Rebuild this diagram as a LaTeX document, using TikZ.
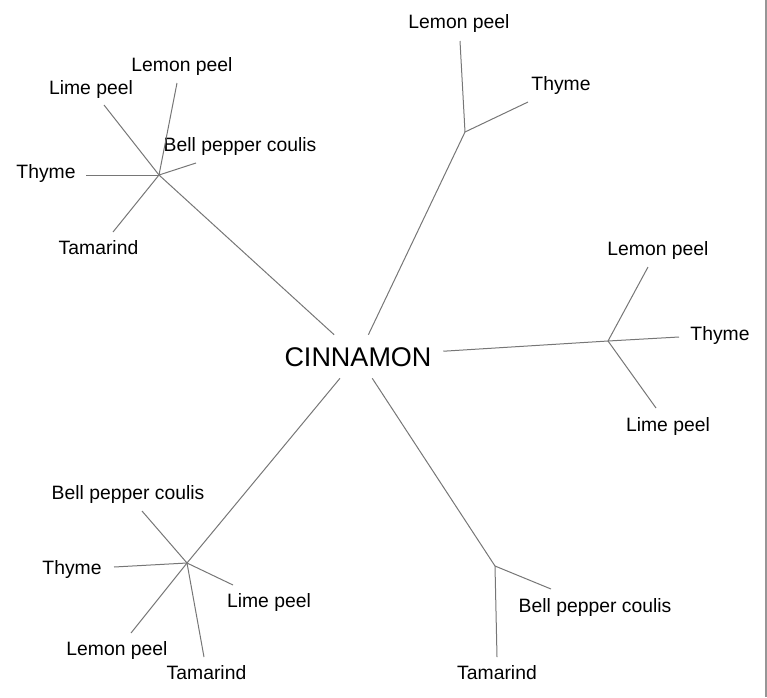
\documentclass[tikz,border=0pt]{standalone}
\usepackage{fontspec}
\setmainfont{Liberation Sans}
\definecolor{edgegray}{RGB}{118,118,118}
\definecolor{framegray}{RGB}{150,150,150}
\tikzset{
  leaf/.style={anchor=base, inner sep=0pt, font=\fontsize{14.5}{17}\selectfont},
  root/.style={inner sep=0pt, minimum width=127.5pt, minimum height=32.25pt, text height=14.5pt, text depth=0pt, font=\fontsize{20.25}{24}\selectfont},
  branch/.style={draw=edgegray, line width=0.75pt}
}
\begin{document}
\begin{tikzpicture}[x=0.75pt,y=-0.75pt]
\useasboundingbox (0,0) rectangle (767,697);
\draw[framegray, line width=1pt] (766,0) -- (766,697);
\node[root] (cin) at (358,356.5){CINNAMON};
\coordinate (tlhub) at (159,175);
\coordinate (thub) at (465,132);
\coordinate (rhub) at (608,341);
\coordinate (blhub) at (187,563);
\coordinate (brhub) at (495,566);
\coordinate (tlend0) at (177,83);
\coordinate (tlend1) at (104,105);
\coordinate (tlend2) at (196,163);
\coordinate (tlend3) at (86,175);
\coordinate (tlend4) at (113,232);
\coordinate (tend0) at (460,41);
\coordinate (tend1) at (528,102);
\coordinate (rend0) at (648,267);
\coordinate (rend1) at (679,337);
\coordinate (rend2) at (656,408);
\coordinate (blend0) at (142,511);
\coordinate (blend1) at (114,567);
\coordinate (blend2) at (131,633);
\coordinate (blend3) at (204,657);
\coordinate (blend4) at (233,585);
\coordinate (brend0) at (551,589);
\coordinate (brend1) at (497,657);
\node[leaf] (tllab0) at (182,71){Lemon peel};
\node[leaf] (tllab1) at (91,94){Lime peel};
\node[leaf] (tllab2) at (240,151.5){Bell pepper coulis};
\node[leaf] (tllab3) at (46,178){Thyme};
\node[leaf] (tllab4) at (98.5,254){Tamarind};
\node[leaf] (tlab0) at (459,28.5){Lemon peel};
\node[leaf] (tlab1) at (561,90){Thyme};
\node[leaf] (rlab0) at (658,255){Lemon peel};
\node[leaf] (rlab1) at (720,340){Thyme};
\node[leaf] (rlab2) at (668,431.5){Lime peel};
\node[leaf] (bllab0) at (128,499){Bell pepper coulis};
\node[leaf] (bllab1) at (72,574){Thyme};
\node[leaf] (bllab2) at (117,655.5){Lemon peel};
\node[leaf] (bllab3) at (206.5,679){Tamarind};
\node[leaf] (bllab4) at (269,607.5){Lime peel};
\node[leaf] (brlab0) at (595,612){Bell pepper coulis};
\node[leaf] (brlab1) at (497,679){Tamarind};
\draw[branch] (tlhub) -- (cin);
\draw[branch] (thub) -- (cin);
\draw[branch] (rhub) -- (cin);
\draw[branch] (blhub) -- (cin);
\draw[branch] (brhub) -- (cin);
\draw[branch] (tlhub) -- (tlend0);
\draw[branch] (tlhub) -- (tlend1);
\draw[branch] (tlhub) -- (tlend2);
\draw[branch] (tlhub) -- (tlend3);
\draw[branch] (tlhub) -- (tlend4);
\draw[branch] (thub) -- (tend0);
\draw[branch] (thub) -- (tend1);
\draw[branch] (rhub) -- (rend0);
\draw[branch] (rhub) -- (rend1);
\draw[branch] (rhub) -- (rend2);
\draw[branch] (blhub) -- (blend0);
\draw[branch] (blhub) -- (blend1);
\draw[branch] (blhub) -- (blend2);
\draw[branch] (blhub) -- (blend3);
\draw[branch] (blhub) -- (blend4);
\draw[branch] (brhub) -- (brend0);
\draw[branch] (brhub) -- (brend1);
\end{tikzpicture}
\end{document}
